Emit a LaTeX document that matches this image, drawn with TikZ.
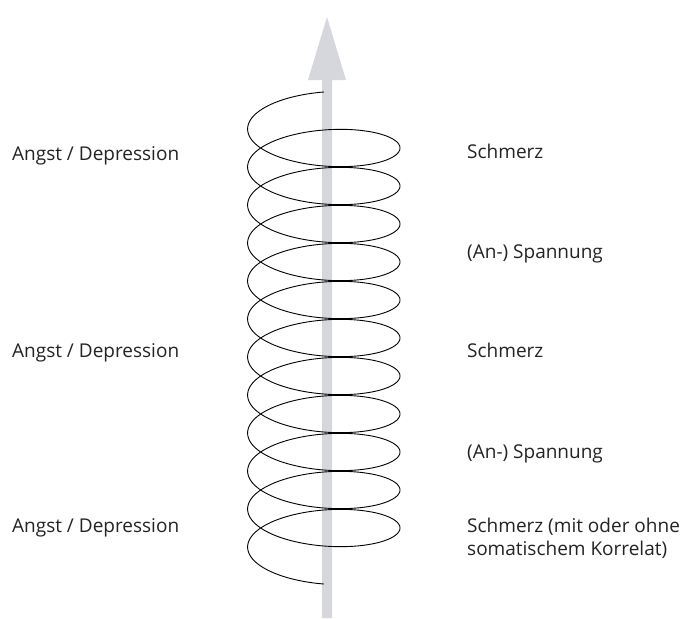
\documentclass[tikz,border=0pt]{standalone}
\usepackage{fontspec}
\setmainfont{Open Sans}
\definecolor{arrowgray}{RGB}{214,215,220}
\definecolor{txt}{RGB}{35,35,35}
\begin{document}
\begin{tikzpicture}[x=1pt,y=-1pt,
  lbl/.style={anchor=base west, inner sep=0pt, font=\fontsize{19}{23}\selectfont, text=txt, align=left}]
\useasboundingbox (0,0) rectangle (684,618);
% big grey arrow
\fill[arrowgray] (322,618) -- (322,80) -- (308,80) -- (327,17) -- (346,80) -- (332,80) -- (332,618) -- cycle;
% spiral
\draw[line width=0.9pt, smooth, samples=1400, domain=0:4140, variable=\t]
  plot ({323.8-76.2*sin(\t)}, {119.5+(\t/360)*38-27.5*cos(\t)});
% left labels
\node[lbl] (a1) at (12,160) {Angst / Depression};
\node[lbl] (a2) at (12,357) {Angst / Depression};
\node[lbl] (a3) at (12,532) {Angst / Depression};
% right labels
\node[lbl] (s1) at (467,158) {Schmerz};
\node[lbl] (p1) at (467,258) {(An-) Spannung};
\node[lbl] (s2) at (467,357) {Schmerz};
\node[lbl] (p2) at (467,458) {(An-) Spannung};
\node[lbl] (s3) at (467,555) {Schmerz (mit oder ohne\\somatischem Korrelat)};
\end{tikzpicture}
\end{document}
